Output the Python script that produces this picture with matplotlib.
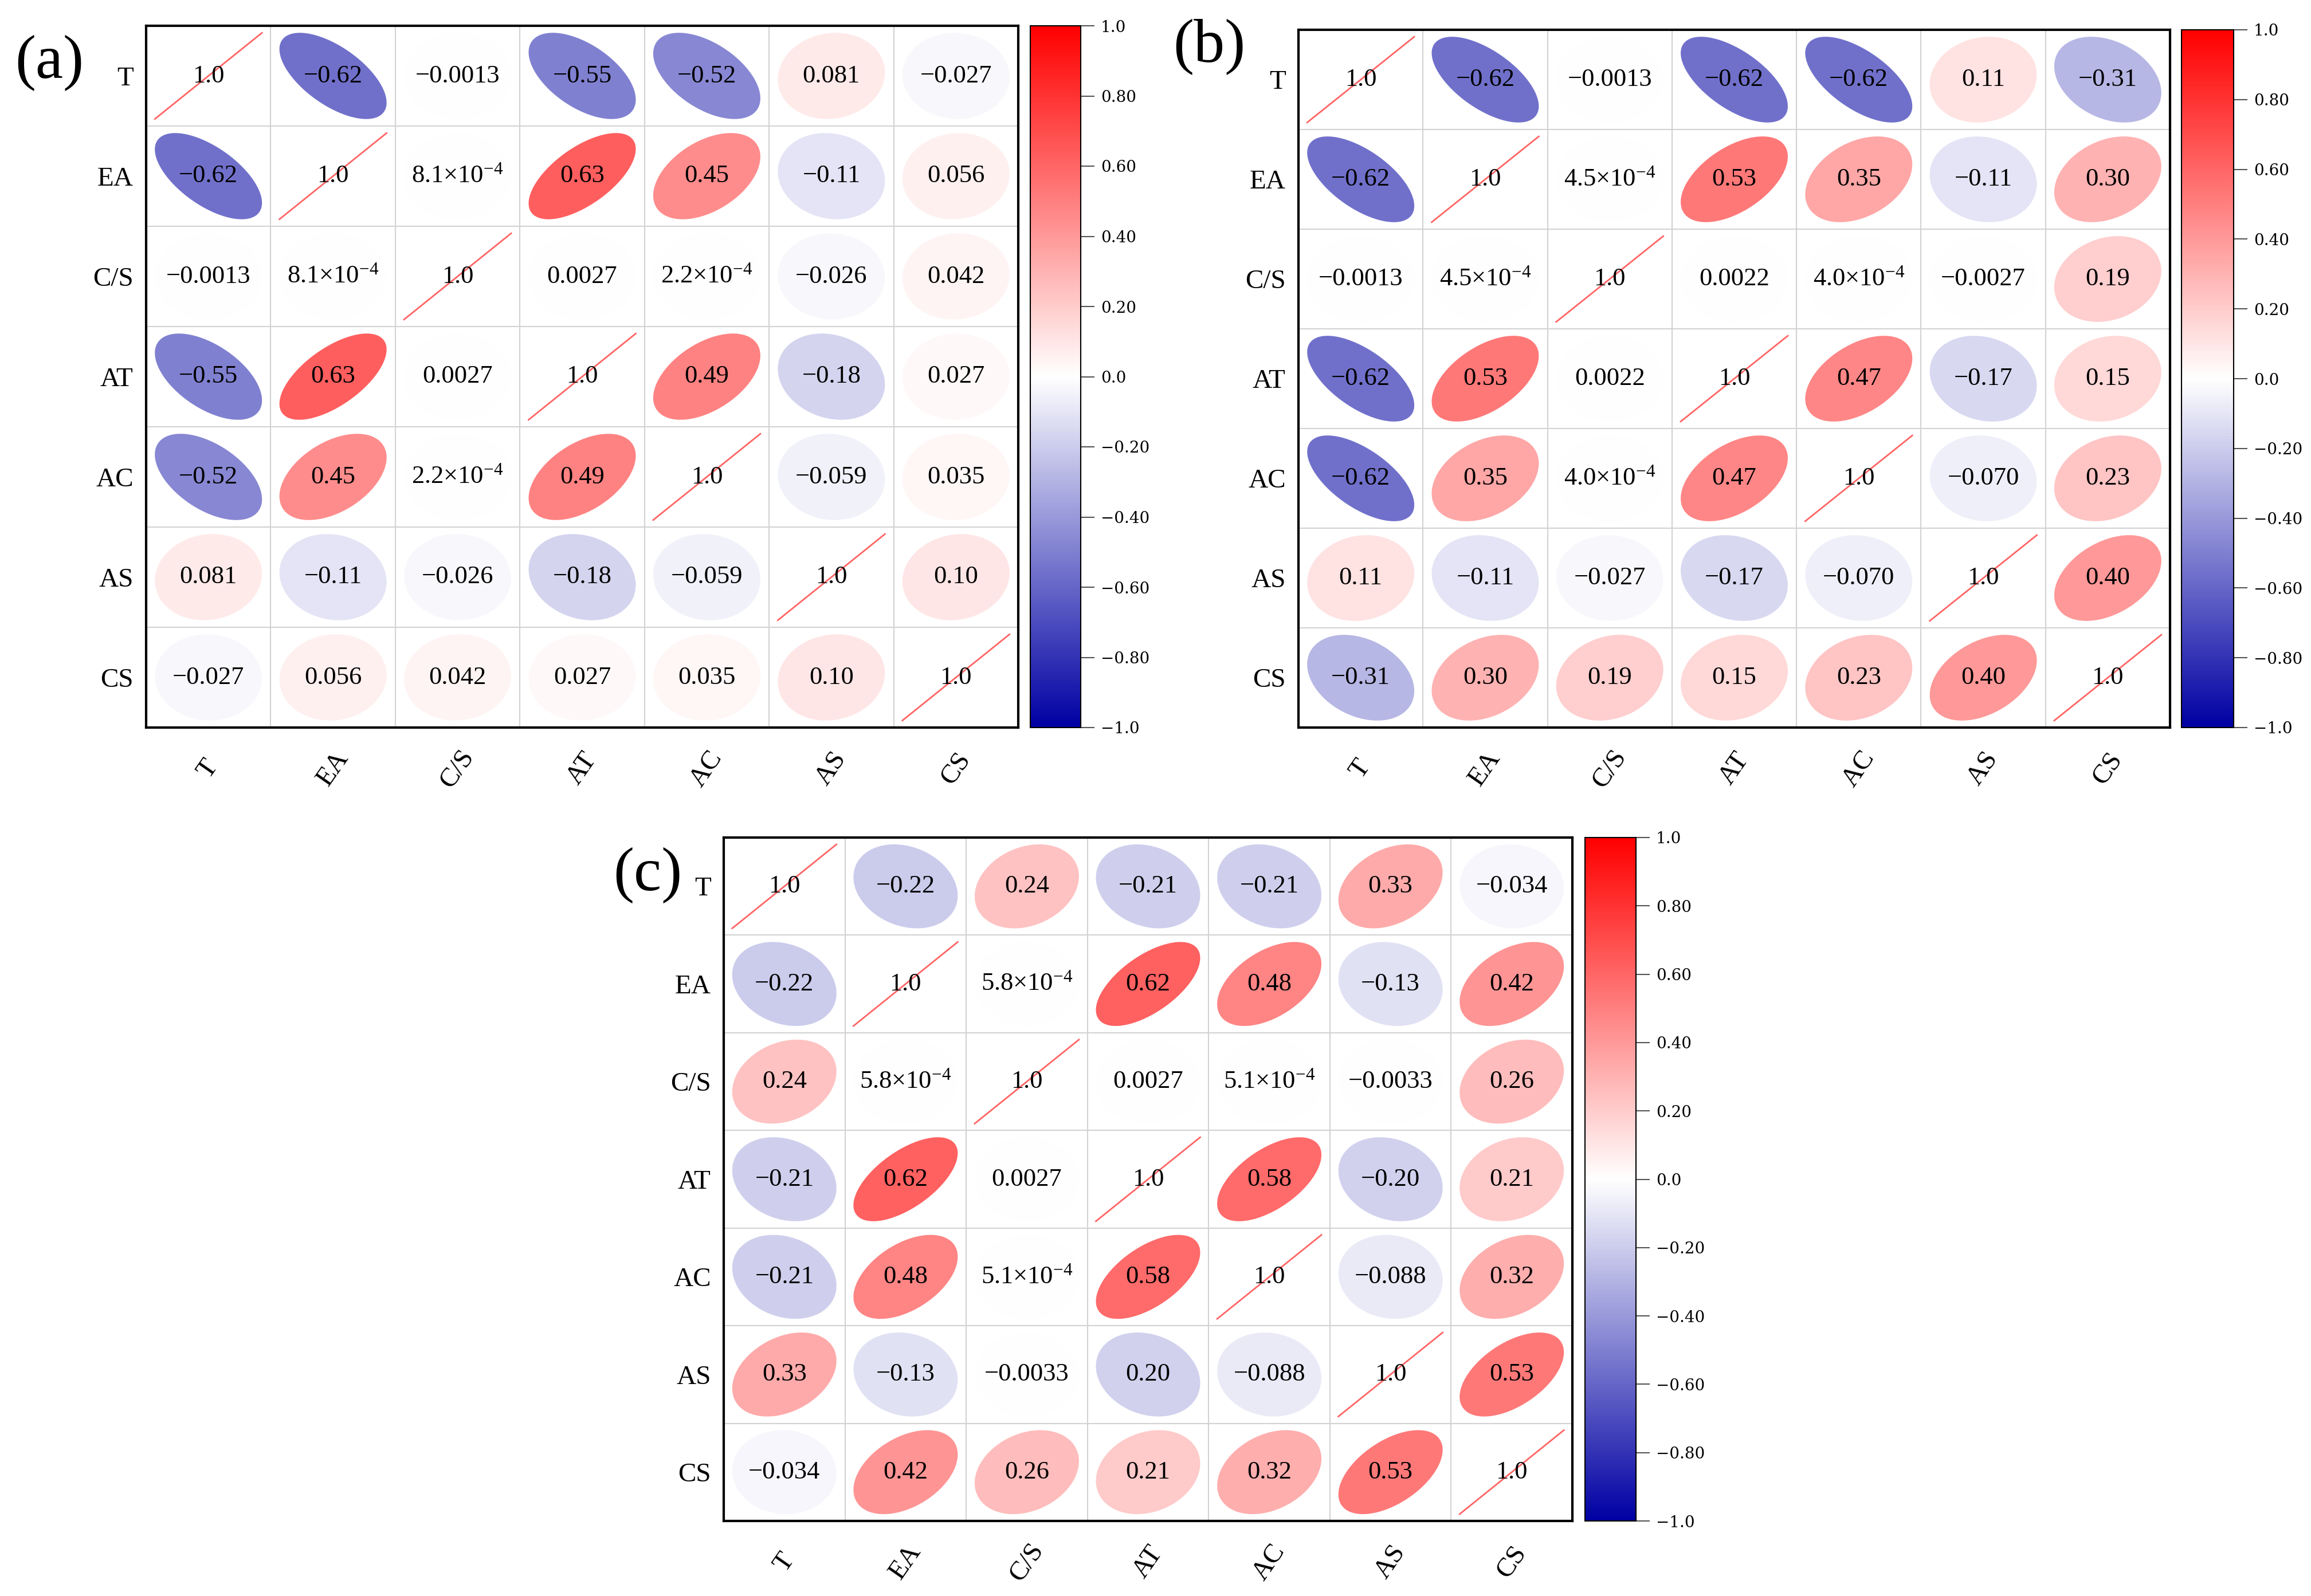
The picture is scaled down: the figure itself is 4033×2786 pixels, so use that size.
import matplotlib
matplotlib.use('Agg')
import matplotlib.pyplot as plt
import numpy as np
from matplotlib.colors import LinearSegmentedColormap, Normalize
from matplotlib.cm import ScalarMappable

plt.rcParams['font.family'] = ['Liberation Serif', 'DejaVu Serif']
plt.rcParams['mathtext.fontset'] = 'custom'
plt.rcParams['mathtext.rm'] = 'Liberation Serif'
plt.rcParams['mathtext.it'] = 'Liberation Serif'

VARS = ['T', 'EA', 'C/S', 'AT', 'AC', 'AS', 'CS']

CORR_A = [
    [1.0, -0.62, -0.0013, -0.55, -0.52, 0.081, -0.027],
    [-0.62, 1.0, 8.1e-4, 0.63, 0.45, -0.11, 0.056],
    [-0.0013, 8.1e-4, 1.0, 0.0027, 2.2e-4, -0.026, 0.042],
    [-0.55, 0.63, 0.0027, 1.0, 0.49, -0.18, 0.027],
    [-0.52, 0.45, 2.2e-4, 0.49, 1.0, -0.059, 0.035],
    [0.081, -0.11, -0.026, -0.18, -0.059, 1.0, 0.10],
    [-0.027, 0.056, 0.042, 0.027, 0.035, 0.10, 1.0],
]

CORR_B = [
    [1.0, -0.62, -0.0013, -0.62, -0.62, 0.11, -0.31],
    [-0.62, 1.0, 4.5e-4, 0.53, 0.35, -0.11, 0.30],
    [-0.0013, 4.5e-4, 1.0, 0.0022, 4.0e-4, -0.0027, 0.19],
    [-0.62, 0.53, 0.0022, 1.0, 0.47, -0.17, 0.15],
    [-0.62, 0.35, 4.0e-4, 0.47, 1.0, -0.070, 0.23],
    [0.11, -0.11, -0.027, -0.17, -0.070, 1.0, 0.40],
    [-0.31, 0.30, 0.19, 0.15, 0.23, 0.40, 1.0],
]

CORR_C = [
    [1.0, -0.22, 0.24, -0.21, -0.21, 0.33, -0.034],
    [-0.22, 1.0, 5.8e-4, 0.62, 0.48, -0.13, 0.42],
    [0.24, 5.8e-4, 1.0, 0.0027, 5.1e-4, -0.0033, 0.26],
    [-0.21, 0.62, 0.0027, 1.0, 0.58, -0.20, 0.21],
    [-0.21, 0.48, 5.1e-4, 0.58, 1.0, -0.088, 0.32],
    [0.33, -0.13, -0.0033, -0.20, -0.088, 1.0, 0.53],
    [-0.034, 0.42, 0.26, 0.21, 0.32, 0.53, 1.0],
]

# printed text differs from the colour in one cell of (c)
LABEL_FIX_C = {(5, 3): '0.20'}

CBAR_TICKS = [-1.0, -0.8, -0.6, -0.4, -0.2, 0.0, 0.2, 0.4, 0.6, 0.8, 1.0]
CBAR_LABELS = ['\u22121.0', '\u22120.80', '\u22120.60', '\u22120.40', '\u22120.20',
               '0.0', '0.20', '0.40', '0.60', '0.80', '1.0']

W, H = 4033, 2786
CMAP = LinearSegmentedColormap.from_list('bwr2', [(0, 0, 0.64), (1, 1, 1), (1, 0, 0)])
NORM = Normalize(-1, 1)


def fmt(v):
    a = abs(v)
    if a < 1e-3:
        mant, ex = f'{v:.1e}'.split('e')
        return mant.replace('-', '\u2212') + '\u00d7$10^{' + str(int(ex)) + '}$'
    dec = max(1, 1 - int(np.floor(np.log10(a))))
    return f'{v:.{dec}f}'.replace('-', '\u2212')


def box(px):
    l, t, r, b = px
    return [l / W, 1 - b / H, (r - l) / W, (b - t) / H]


def draw_panel(fig, corr, ax_px, cb_px, tag, tag_xy, fix=None):
    fix = fix or {}
    corr = np.array(corr)
    n = len(VARS)
    ax = fig.add_axes(box(ax_px))
    ax.set_xlim(0, n)
    ax.set_ylim(n, 0)
    s = 0.43
    t = np.linspace(0, 2 * np.pi, 200)
    for i in range(n):
        for j in range(n):
            r = corr[i, j]
            cx, cy = j + 0.5, i + 0.5
            if i == j:
                ax.plot([cx - s, cx + s], [cy + s, cy - s], color='#FF6464', lw=2, zorder=2)
            else:
                d = np.arccos(r)
                ex = cx + s * np.cos(t + d / 2)
                ey = cy - s * np.cos(t - d / 2)
                col = CMAP(NORM(r))
                if r < 0:
                    col = col[:3] + (0.9,)
                ax.fill(ex, ey, color=col, lw=0, zorder=1)
            ax.text(cx, cy, fix.get((i, j), fmt(r)), ha='center', va='center',
                    fontsize=32, zorder=3)
    for k in range(1, n):
        ax.axhline(k, color='#D2D2D2', lw=1.5, zorder=0)
        ax.axvline(k, color='#D2D2D2', lw=1.5, zorder=0)
    for sp in ax.spines.values():
        sp.set_linewidth(3)
    ax.set_xticks(np.arange(n) + 0.5)
    ax.set_xticklabels(VARS, rotation=55, ha='center', va='center', fontsize=34)
    ax.set_yticks(np.arange(n) + 0.5)
    ax.set_yticklabels(VARS, fontsize=34)
    ax.tick_params(axis='x', length=0, pad=52)
    ax.tick_params(axis='y', length=0, pad=16)

    cax = fig.add_axes(box(cb_px))
    cb = fig.colorbar(ScalarMappable(norm=NORM, cmap=CMAP), cax=cax, ticks=CBAR_TICKS)
    cb.set_ticklabels(CBAR_LABELS)
    cb.outline.set_linewidth(1.5)
    cax.tick_params(length=17, width=1.5, color='#555555', labelsize=20, pad=8)
    for lab in cax.get_yticklabels():
        lab.set_family('DejaVu Serif')

    fig.text(tag_xy[0] / W, 1 - tag_xy[1] / H, tag, ha='center', va='center', fontsize=78)


def main():
    fig = plt.figure(figsize=(W / 100, H / 100), dpi=100)
    draw_panel(fig, CORR_A, (255, 45, 1777, 1270), (1798, 45, 1886, 1270), '(a)', (86, 110))
    draw_panel(fig, CORR_B, (2266, 52, 3787, 1270), (3807, 52, 3898, 1270), '(b)', (2110, 82))
    draw_panel(fig, CORR_C, (1263, 1462, 2744, 2655), (2766, 1462, 2855, 2655), '(c)', (1130, 1528),
               fix=LABEL_FIX_C)
    fig.savefig('out.png', dpi=100)


if __name__ == '__main__':
    main()
